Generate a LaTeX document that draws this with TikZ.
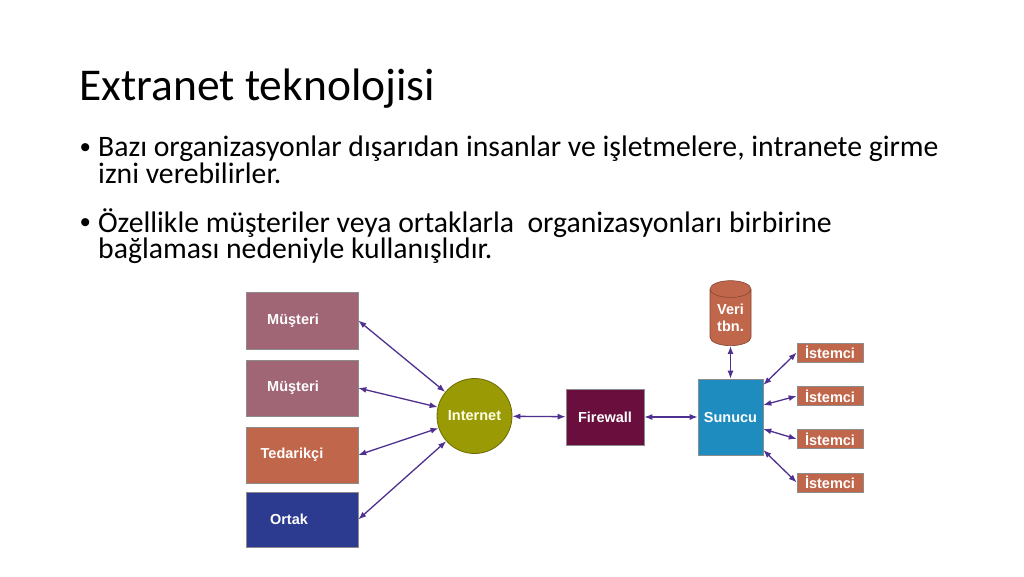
\documentclass[tikz,border=0pt]{standalone}
\usepackage{fontspec}
\setmainfont{Carlito}
\newfontfamily\diafont{Liberation Sans}
\usepackage{tikz}
\usetikzlibrary{shapes.geometric,arrows.meta}

\definecolor{mauve}{HTML}{A06676}
\definecolor{rust}{HTML}{C0664A}
\definecolor{navy}{HTML}{2C3A8F}
\definecolor{olive}{HTML}{9A9A04}
\definecolor{wine}{HTML}{6A0E3E}
\definecolor{cyanbox}{HTML}{1E8CBE}
\definecolor{linkc}{HTML}{4E3090}

\begin{document}
\begin{tikzpicture}[x=1pt, y=-1pt,
    box/.style={draw=black!45, line width=0.6pt, inner sep=0pt},
    lbl/.style={text=white, font=\diafont\bfseries\fontsize{14.5}{17}\selectfont},
    body/.style={anchor=base west, inner sep=0pt, align=left, font=\fontsize{29.7}{26.6}\selectfont},
    bull/.style={anchor=base west, inner sep=0pt, font=\diafont\fontsize{29.7}{30}\selectfont},
    link/.style={{Latex[length=8pt,width=6pt]}-{Latex[length=8pt,width=6pt]}, draw=linkc, line width=1.3pt}]
    \useasboundingbox[fill=white] (0,0) rectangle (1024,576);

    % Title & bullets
    \node[anchor=base west, inner sep=0pt, font=\fontsize{45.5}{50}\selectfont] (title) at (79,100) {Extranet teknolojisi};
    \node[bull] (dot1) at (80,157) {•};
    \node[body] (txt1) at (98,183.3)
        {Bazı organizasyonlar dışarıdan insanlar ve işletmelere, intranete girme\\izni verebilirler.};
    \node[bull] (dot2) at (80,232) {•};
    \node[body] (txt2) at (98,258.6)
        {Özellikle müşteriler veya ortaklarla\ \ organizasyonları birbirine\\bağlaması nedeniyle kullanışlıdır.};

    % Outside parties
    \node[box, fill=mauve, minimum width=112, minimum height=57, label={[lbl, xshift=-9]center:Müşteri}] (cust1) at (302,320.5) {};
    \node[box, fill=mauve, minimum width=112, minimum height=56, label={[lbl, xshift=-9]center:Müşteri}] (cust2) at (302,388) {};
    \node[box, fill=rust, minimum width=112, minimum height=56, label={[lbl, xshift=-10]center:Tedarikçi}] (supp) at (302,455) {};
    \node[box, fill=navy, minimum width=112, minimum height=55, label={[lbl, xshift=-13]center:Ortak}] (part) at (302,519.5) {};

    % Internet, firewall, server
    \node[circle, draw=olive!70!black, line width=0.8pt, fill=olive, minimum size=75, inner sep=0pt, lbl, text=yellow!10] (inet) at (474.5,416) {Internet};
    \node[box, fill=wine, minimum width=78, minimum height=56, lbl] (fw) at (605,417) {Firewall};
    \node[box, fill=cyanbox, minimum width=65, minimum height=76, lbl] (srv) at (730.5,417) {Sunucu};

    % Database
    \node[cylinder, shape border rotate=90, aspect=0.63, draw=rust!70!black, line width=0.6pt, fill=rust,
        minimum width=41, minimum height=65, inner sep=0pt, align=center, lbl] (db) at (730.5,317.5) {Veri\\tbn.};

    % Clients
    \foreach \i/\y in {1/352.5, 2/396, 3/439, 4/482.5}
        \node[box, fill=rust, minimum width=66, minimum height=19, lbl] (cl\i) at (830,\y) {İstemci};

    % Links
    \draw[link] (cust1.east) -- (inet);
    \draw[link] (cust2.east) -- (inet);
    \draw[link] (supp.east) -- (inet);
    \draw[link] (part.east) -- (inet);
    \draw[link] (inet) -- (fw);
    \draw[link] (fw) -- (srv);
    \draw[link] (db) -- (srv);
    \draw[link] ([yshift=32]srv.east) -- (cl1.west);
    \draw[link] ([yshift=12]srv.east) -- (cl2.west);
    \draw[link] ([yshift=-12]srv.east) -- (cl3.west);
    \draw[link] ([yshift=-33]srv.east) -- (cl4.west);
\end{tikzpicture}
\end{document}
